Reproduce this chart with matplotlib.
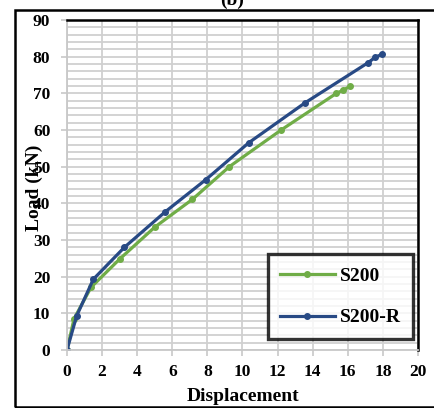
import matplotlib.pyplot as plt
from matplotlib.ticker import MultipleLocator
from matplotlib.patches import Rectangle

plt.rcParams['font.family'] = ['Liberation Serif', 'DejaVu Serif']
plt.rcParams['font.weight'] = 'bold'

# S200 curve
s200_disp = [0, 0.4, 1.37, 3.0, 5.0, 7.15, 9.25, 12.2, 15.35, 15.75, 16.15]
s200_load = [0, 8.5, 17.1, 24.8, 33.5, 41.1, 50.0, 60.0, 70.0, 70.9, 72.0]

# S200-R curve
s200r_disp = [0, 0.55, 1.5, 3.27, 5.6, 7.92, 10.35, 13.56, 17.17, 17.55, 17.97]
s200r_load = [0, 9.3, 19.3, 28.0, 37.7, 46.5, 56.5, 67.4, 78.4, 79.8, 80.7]

fig = plt.figure(figsize=(4.35, 4.08), dpi=100)
ax = fig.add_axes([67 / 435, 58 / 408, 351 / 435, 330 / 408])

ax.plot(s200_disp, s200_load, color='#70AD47', lw=2.3, marker='o', ms=4, label='S200')
ax.plot(s200r_disp, s200r_load, color='#284A85', lw=2.3, marker='o', ms=4, label='S200-R')

ax.set_xlim(0, 20)
ax.set_ylim(0, 90)
ax.xaxis.set_major_locator(MultipleLocator(2))
ax.yaxis.set_major_locator(MultipleLocator(10))
ax.yaxis.set_minor_locator(MultipleLocator(2))
ax.grid(True, which='both', color='#D0D0D0', lw=1.3)
ax.set_axisbelow(True)
ax.tick_params(which='minor', length=0)
ax.tick_params(which='major', length=4, width=1.2, color='#C8C8C8', labelsize=12.5)
ax.tick_params(axis='y', pad=8)
ax.tick_params(axis='x', pad=6)

for s in ['top', 'right']:
    ax.spines[s].set_color('black')
    ax.spines[s].set_linewidth(1.8)
for s in ['left', 'bottom']:
    ax.spines[s].set_color('#C8C8C8')
    ax.spines[s].set_linewidth(1.3)

ax.set_xlabel('Displacement', fontsize=14, fontweight='bold', labelpad=6)
ax.set_ylabel('Load (kN)', fontsize=14, fontweight='bold')
ax.yaxis.set_label_coords(-0.068, 0.49)

leg = ax.legend(loc='lower right', bbox_to_anchor=(0.986, 0.033), fontsize=14,
                frameon=True, fancybox=False, edgecolor='black',
                handlelength=2.8, labelspacing=1.25, borderpad=0.65,
                handletextpad=0.25, borderaxespad=0)
leg.get_frame().set_linewidth(2.4)

# outer frame and cut-off panel title
fig.patches.append(Rectangle((15 / 435, 1 / 408), 1.2, 397 / 408, transform=fig.transFigure,
                             fill=False, edgecolor='black', lw=1.8))
fig.text(232 / 435, 1.0, '(b)', ha='center', va='center', fontsize=14, fontweight='bold')

fig.savefig('out.png', dpi=100)
